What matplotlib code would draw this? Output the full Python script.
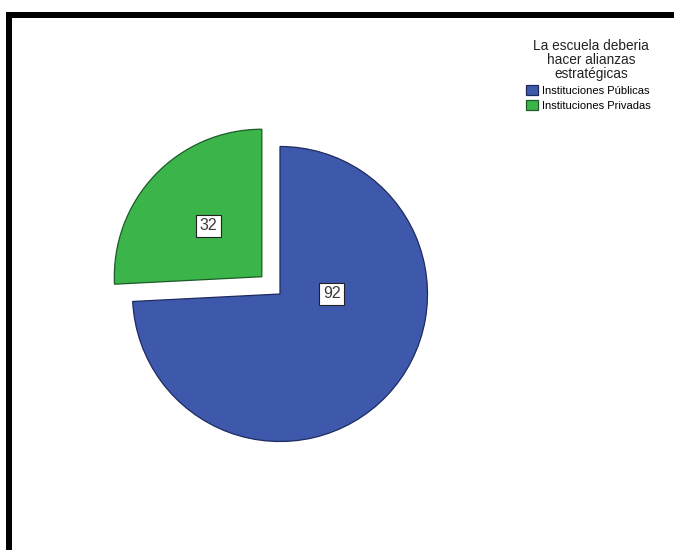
import matplotlib
matplotlib.use("Agg")
import matplotlib.pyplot as plt
import numpy as np
from matplotlib.lines import Line2D

plt.rcParams['font.family'] = ['Liberation Sans', 'DejaVu Sans']

# data
categories = ['Instituciones Públicas', 'Instituciones Privadas']
counts = [92, 32]
legend_title = 'La escuela deberia\nhacer alianzas\nestratégicas'

face_colors = ['#3E58AC', '#3BB54A']
edge_colors = ['#1e2b5e', '#1c5a27']

W, H = 674, 550
fig = plt.figure(figsize=(W / 100, H / 100), dpi=100)
ax = fig.add_axes([0, 0, 1, 1])

# pie centre and radius in pixels
cx, cy, r = 280, 294, 147.5

wedges, _ = ax.pie(counts, colors=face_colors, startangle=90, counterclock=False,
                   explode=[0, 0.17], radius=1,
                   wedgeprops=dict(linewidth=0.9))
for w, ec in zip(wedges, edge_colors):
    w.set_edgecolor(ec)

ax.set_xlim(-cx / r, (W - cx) / r)
ax.set_ylim(-(H - cy) / r, cy / r)
ax.set_aspect('auto')
ax.axis('off')

# value labels in boxes
box = dict(boxstyle='square,pad=0.22', facecolor='white', edgecolor='#222222', linewidth=0.8)
for i, (w, n) in enumerate(zip(wedges, counts)):
    if i == 0:
        # first slice label sits right of the centre
        x, y = w.center[0] + 0.35, w.center[1]
    else:
        mid = np.deg2rad((w.theta1 + w.theta2) / 2)
        x = w.center[0] + 0.5 * np.cos(mid)
        y = w.center[1] + 0.5 * np.sin(mid)
    ax.text(x, y, str(n), ha='center', va='center', fontsize=11.5, color='#3a3a3a', bbox=box)

# legend title drawn separately so its spacing can be set
fig.text(591 / W, 1 - 39 / H, legend_title, ha='center', va='top', fontsize=9.8,
         linespacing=0.98, color='#222222')
fig.legend(wedges, categories, loc='upper left',
           bbox_to_anchor=(526 / W, 1 - 85 / H), frameon=False,
           fontsize=8, borderpad=0, borderaxespad=0,
           handlelength=1.1, handleheight=1.05, handletextpad=0.35,
           labelspacing=0.35)

# frame lines on top and left
fig.add_artist(Line2D([6 / W, 1], [1 - 15 / H, 1 - 15 / H], transform=fig.transFigure,
                      color='black', linewidth=4.32, solid_capstyle='butt'))
fig.add_artist(Line2D([9 / W, 9 / W], [0, 1 - 12 / H], transform=fig.transFigure,
                      color='black', linewidth=4.32, solid_capstyle='butt'))

fig.savefig('out.png', dpi=100, facecolor='white')
